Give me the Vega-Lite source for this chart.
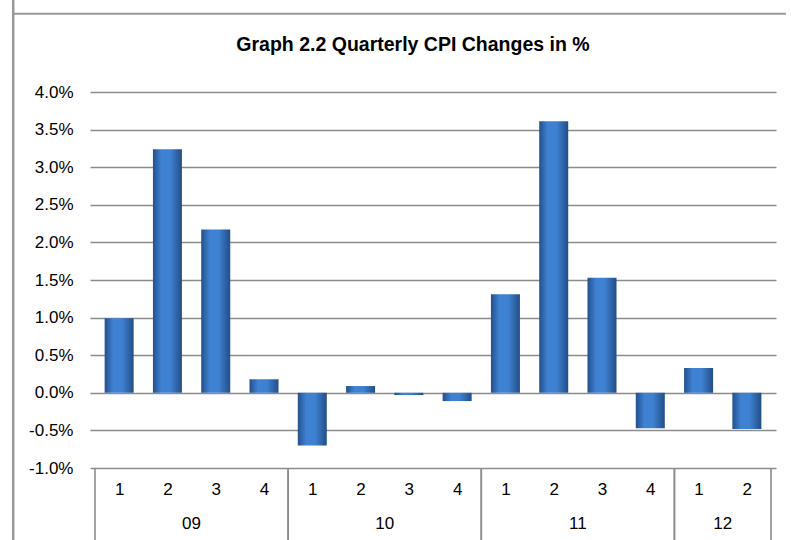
{
  "$schema": "https://vega.github.io/schema/vega-lite/v6.json",
  "width": 686,
  "height": 376,
  "autosize": "none",
  "padding": {"left": 90, "top": 92, "right": 15, "bottom": 72},
  "background": "white",
  "config": {
    "view": {"stroke": null},
    "font": "Liberation Sans",
    "axis": {"labelOverlap": false, "labelFont": "Liberation Sans", "labelFontSize": 17, "labelColor": "#000000", "domain": false, "ticks": false, "title": null},
    "axisY": {"grid": true, "gridColor": "#8c8c8c", "gridWidth": 1.6, "labelPadding": 17},
    "axisX": {"grid": false, "labelPadding": 13}
  },
  "title": {
    "text": "Graph 2.2 Quarterly CPI Changes in %",
    "font": "Liberation Sans",
    "fontSize": 19.5,
    "fontWeight": "bold",
    "color": "#000000",
    "anchor": "middle",
    "frame": "group",
    "dx": -20,
    "offset": -59
  },
  "datasets": {
    "cpi": [
      {"idx": 1, "year": "09", "quarter": 1, "change": 0.0099},
      {"idx": 2, "year": "09", "quarter": 2, "change": 0.0324},
      {"idx": 3, "year": "09", "quarter": 3, "change": 0.0217},
      {"idx": 4, "year": "09", "quarter": 4, "change": 0.0018},
      {"idx": 5, "year": "10", "quarter": 1, "change": -0.0070},
      {"idx": 6, "year": "10", "quarter": 2, "change": 0.0009},
      {"idx": 7, "year": "10", "quarter": 3, "change": -0.0003},
      {"idx": 8, "year": "10", "quarter": 4, "change": -0.0011},
      {"idx": 9, "year": "11", "quarter": 1, "change": 0.0131},
      {"idx": 10, "year": "11", "quarter": 2, "change": 0.0361},
      {"idx": 11, "year": "11", "quarter": 3, "change": 0.0153},
      {"idx": 12, "year": "11", "quarter": 4, "change": -0.0047},
      {"idx": 13, "year": "12", "quarter": 1, "change": 0.0033},
      {"idx": 14, "year": "12", "quarter": 2, "change": -0.0048}
    ],
    "years": [
      {"year": "09", "start": 0.5, "end": 4.5, "mid": 2.5},
      {"year": "10", "start": 4.5, "end": 8.5, "mid": 6.5},
      {"year": "11", "start": 8.5, "end": 12.5, "mid": 10.5},
      {"year": "12", "start": 12.5, "end": 14.5, "mid": 13.5}
    ],
    "frame": [{"part": "border"}]
  },
  "layer": [
    {
      "data": {"name": "cpi"},
      "mark": {
        "type": "bar",
        "size": 29,
        "color": {
          "gradient": "linear",
          "x1": 0, "y1": 0, "x2": 1, "y2": 0,
          "stops": [
            {"offset": 0, "color": "#23508c"},
            {"offset": 0.3, "color": "#3f82d4"},
            {"offset": 0.6, "color": "#3e80d1"},
            {"offset": 1, "color": "#234e86"}
          ]
        }
      },
      "encoding": {
        "x": {
          "field": "idx", "type": "quantitative",
          "scale": {"domain": [0.5, 14.5], "nice": false, "zero": false},
          "axis": {"values": [1, 2, 3, 4, 5, 6, 7, 8, 9, 10, 11, 12, 13, 14], "labelExpr": "'' + ((datum.value - 1) % 4 + 1)"}
        },
        "y": {
          "field": "change", "type": "quantitative",
          "scale": {"domain": [-0.01, 0.04], "nice": false},
          "axis": {"values": [-0.01, -0.005, 0, 0.005, 0.01, 0.015, 0.02, 0.025, 0.03, 0.035, 0.04], "labelExpr": "replace(format(datum.value, '.1%'), '\u2212', '-')"}
        }
      }
    },
    {
      "data": {"name": "years"},
      "mark": {"type": "rule", "color": "#8c8c8c", "strokeWidth": 1.6, "clip": false},
      "encoding": {
        "x": {"field": "start", "type": "quantitative",
          "axis": {"values": [1, 2, 3, 4, 5, 6, 7, 8, 9, 10, 11, 12, 13, 14], "labelExpr": "'' + ((datum.value - 1) % 4 + 1)"}},
        "y": {"datum": -0.01,
          "axis": {"values": [-0.01, -0.005, 0, 0.005, 0.01, 0.015, 0.02, 0.025, 0.03, 0.035, 0.04], "labelExpr": "replace(format(datum.value, '.1%'), '\u2212', '-')"}},
        "y2": {"datum": -0.0205}
      }
    },
    {
      "data": {"name": "years"},
      "mark": {"type": "rule", "color": "#8c8c8c", "strokeWidth": 1.6, "clip": false},
      "encoding": {
        "x": {"field": "end", "type": "quantitative",
          "axis": {"values": [1, 2, 3, 4, 5, 6, 7, 8, 9, 10, 11, 12, 13, 14], "labelExpr": "'' + ((datum.value - 1) % 4 + 1)"}},
        "y": {"datum": -0.01,
          "axis": {"values": [-0.01, -0.005, 0, 0.005, 0.01, 0.015, 0.02, 0.025, 0.03, 0.035, 0.04], "labelExpr": "replace(format(datum.value, '.1%'), '\u2212', '-')"}},
        "y2": {"datum": -0.0205}
      }
    },
    {
      "data": {"name": "years"},
      "mark": {"type": "text", "fontSize": 17, "font": "Liberation Sans", "color": "#000000", "baseline": "middle", "align": "center", "clip": false},
      "encoding": {
        "x": {"field": "mid", "type": "quantitative",
          "axis": {"values": [1, 2, 3, 4, 5, 6, 7, 8, 9, 10, 11, 12, 13, 14], "labelExpr": "'' + ((datum.value - 1) % 4 + 1)"}},
        "y": {"datum": -0.0175,
          "axis": {"values": [-0.01, -0.005, 0, 0.005, 0.01, 0.015, 0.02, 0.025, 0.03, 0.035, 0.04], "labelExpr": "replace(format(datum.value, '.1%'), '\u2212', '-')"}},
        "text": {"field": "year"}
      }
    },
    {
      "data": {"name": "frame"},
      "mark": {"type": "rule", "color": "#999999", "strokeWidth": 2.5, "clip": false},
      "encoding": {
        "x": {"datum": -1.194,
          "axis": {"values": [1, 2, 3, 4, 5, 6, 7, 8, 9, 10, 11, 12, 13, 14], "labelExpr": "'' + ((datum.value - 1) % 4 + 1)"}},
        "y": {"datum": 0.0525,
          "axis": {"values": [-0.01, -0.005, 0, 0.005, 0.01, 0.015, 0.02, 0.025, 0.03, 0.035, 0.04], "labelExpr": "replace(format(datum.value, '.1%'), '\u2212', '-')"}},
        "y2": {"datum": -0.0205}
      }
    },
    {
      "data": {"name": "frame"},
      "mark": {"type": "rule", "color": "#999999", "strokeWidth": 2, "clip": false},
      "encoding": {
        "x": {"datum": -1.194,
          "axis": {"values": [1, 2, 3, 4, 5, 6, 7, 8, 9, 10, 11, 12, 13, 14], "labelExpr": "'' + ((datum.value - 1) % 4 + 1)"}},
        "x2": {"datum": 14.81},
        "y": {"datum": 0.0504,
          "axis": {"values": [-0.01, -0.005, 0, 0.005, 0.01, 0.015, 0.02, 0.025, 0.03, 0.035, 0.04], "labelExpr": "replace(format(datum.value, '.1%'), '\u2212', '-')"}}
      }
    }
  ]
}
